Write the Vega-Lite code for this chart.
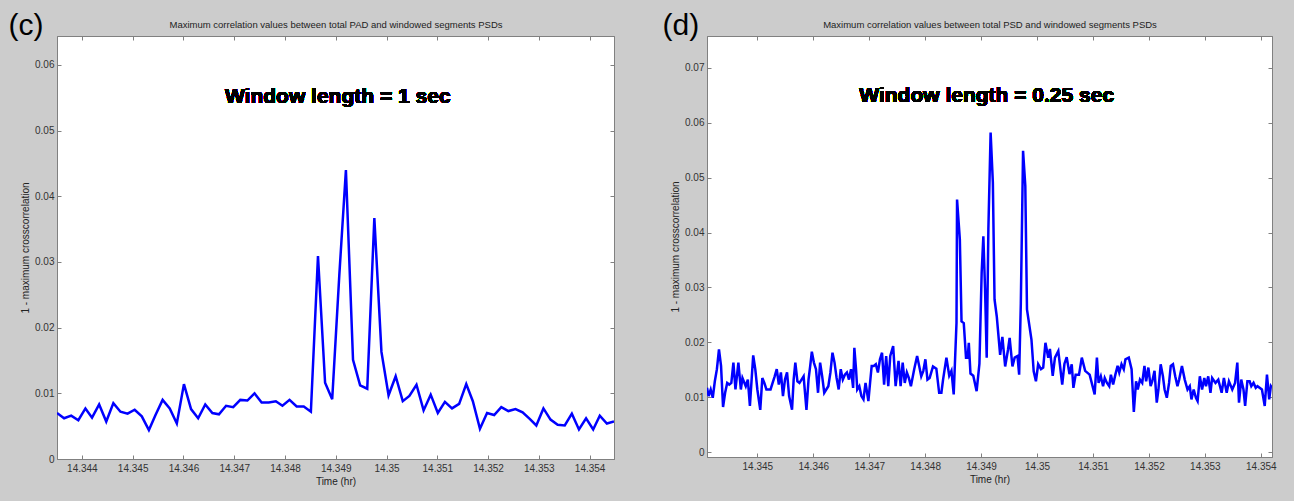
{
  "$schema": "https://vega.github.io/schema/vega-lite/v6.json",
  "background": "#cccccc",
  "padding": {"left": 8, "top": 10, "right": 40, "bottom": 40},
  "autosize": {"type": "pad"},
  "spacing": 93,
  "bounds": "flush",
  "datasets": {
    "c": [
      {"t": 14.34351, "v": 0.0070}, {"t": 14.34365, "v": 0.0062}, {"t": 14.34379, "v": 0.0066}, {"t": 14.34393, "v": 0.0059},
      {"t": 14.34407, "v": 0.0077}, {"t": 14.34420, "v": 0.0063}, {"t": 14.34434, "v": 0.0083}, {"t": 14.34448, "v": 0.0057},
      {"t": 14.34462, "v": 0.0085}, {"t": 14.34476, "v": 0.0072}, {"t": 14.34490, "v": 0.0069}, {"t": 14.34504, "v": 0.0075},
      {"t": 14.34518, "v": 0.0065}, {"t": 14.34532, "v": 0.0044}, {"t": 14.34545, "v": 0.0067}, {"t": 14.34559, "v": 0.0090},
      {"t": 14.34573, "v": 0.0077}, {"t": 14.34587, "v": 0.0054}, {"t": 14.34601, "v": 0.0114}, {"t": 14.34615, "v": 0.0076},
      {"t": 14.34629, "v": 0.0062}, {"t": 14.34643, "v": 0.0083}, {"t": 14.34657, "v": 0.0070}, {"t": 14.34670, "v": 0.0068},
      {"t": 14.34684, "v": 0.0081}, {"t": 14.34698, "v": 0.0079}, {"t": 14.34712, "v": 0.0090}, {"t": 14.34726, "v": 0.0089},
      {"t": 14.34740, "v": 0.0100}, {"t": 14.34754, "v": 0.0086}, {"t": 14.34768, "v": 0.0086}, {"t": 14.34782, "v": 0.0088},
      {"t": 14.34795, "v": 0.0081}, {"t": 14.34809, "v": 0.0090}, {"t": 14.34823, "v": 0.0080}, {"t": 14.34837, "v": 0.0080},
      {"t": 14.34851, "v": 0.0072}, {"t": 14.34865, "v": 0.0309}, {"t": 14.34879, "v": 0.0116}, {"t": 14.34893, "v": 0.0091},
      {"t": 14.34907, "v": 0.0280}, {"t": 14.34920, "v": 0.0440}, {"t": 14.34934, "v": 0.0151}, {"t": 14.34948, "v": 0.0112},
      {"t": 14.34962, "v": 0.0107}, {"t": 14.34976, "v": 0.0367}, {"t": 14.34990, "v": 0.0163}, {"t": 14.35004, "v": 0.0097},
      {"t": 14.35018, "v": 0.0126}, {"t": 14.35032, "v": 0.0088}, {"t": 14.35045, "v": 0.0096}, {"t": 14.35059, "v": 0.0113},
      {"t": 14.35073, "v": 0.0074}, {"t": 14.35087, "v": 0.0098}, {"t": 14.35101, "v": 0.0070}, {"t": 14.35115, "v": 0.0087},
      {"t": 14.35129, "v": 0.0077}, {"t": 14.35143, "v": 0.0084}, {"t": 14.35157, "v": 0.0114}, {"t": 14.35170, "v": 0.0088},
      {"t": 14.35184, "v": 0.0046}, {"t": 14.35198, "v": 0.0070}, {"t": 14.35212, "v": 0.0067}, {"t": 14.35226, "v": 0.0079},
      {"t": 14.35240, "v": 0.0073}, {"t": 14.35254, "v": 0.0076}, {"t": 14.35268, "v": 0.0071}, {"t": 14.35282, "v": 0.0061},
      {"t": 14.35295, "v": 0.0051}, {"t": 14.35309, "v": 0.0077}, {"t": 14.35323, "v": 0.0060}, {"t": 14.35337, "v": 0.0052},
      {"t": 14.35351, "v": 0.0051}, {"t": 14.35365, "v": 0.0069}, {"t": 14.35379, "v": 0.0045}, {"t": 14.35393, "v": 0.0062},
      {"t": 14.35407, "v": 0.0045}, {"t": 14.35420, "v": 0.0066}, {"t": 14.35434, "v": 0.0054}, {"t": 14.35448, "v": 0.0057}
    ],
    "d": [
      {"t": 14.344100, "v": 0.0117}, {"t": 14.344129, "v": 0.0102}, {"t": 14.344166, "v": 0.0114}, {"t": 14.344203, "v": 0.0099},
      {"t": 14.344240, "v": 0.0129}, {"t": 14.344277, "v": 0.0151}, {"t": 14.344314, "v": 0.0187}, {"t": 14.344351, "v": 0.0157},
      {"t": 14.344387, "v": 0.0082}, {"t": 14.344424, "v": 0.0108}, {"t": 14.344461, "v": 0.0126}, {"t": 14.344498, "v": 0.0123},
      {"t": 14.344535, "v": 0.0126}, {"t": 14.344572, "v": 0.0163}, {"t": 14.344609, "v": 0.0114}, {"t": 14.344661, "v": 0.0163},
      {"t": 14.344705, "v": 0.0114}, {"t": 14.344734, "v": 0.0135}, {"t": 14.344793, "v": 0.0120}, {"t": 14.344830, "v": 0.0132},
      {"t": 14.344867, "v": 0.0084}, {"t": 14.344926, "v": 0.0176}, {"t": 14.344963, "v": 0.0151}, {"t": 14.345000, "v": 0.0114},
      {"t": 14.345052, "v": 0.0077}, {"t": 14.345089, "v": 0.0135}, {"t": 14.345125, "v": 0.0126}, {"t": 14.345162, "v": 0.0114},
      {"t": 14.345236, "v": 0.0114}, {"t": 14.345273, "v": 0.0126}, {"t": 14.345310, "v": 0.0138}, {"t": 14.345347, "v": 0.0151},
      {"t": 14.345384, "v": 0.0123}, {"t": 14.345421, "v": 0.0145}, {"t": 14.345458, "v": 0.0102}, {"t": 14.345494, "v": 0.0132},
      {"t": 14.345531, "v": 0.0145}, {"t": 14.345568, "v": 0.0102}, {"t": 14.345620, "v": 0.0077}, {"t": 14.345649, "v": 0.0132},
      {"t": 14.345679, "v": 0.0163}, {"t": 14.345716, "v": 0.0129}, {"t": 14.345753, "v": 0.0126}, {"t": 14.345790, "v": 0.0132},
      {"t": 14.345827, "v": 0.0138}, {"t": 14.345878, "v": 0.0077}, {"t": 14.345915, "v": 0.0132}, {"t": 14.345945, "v": 0.0157},
      {"t": 14.345974, "v": 0.0183}, {"t": 14.346011, "v": 0.0163}, {"t": 14.346048, "v": 0.0151}, {"t": 14.346085, "v": 0.0108},
      {"t": 14.346122, "v": 0.0163}, {"t": 14.346159, "v": 0.0138}, {"t": 14.346196, "v": 0.0108}, {"t": 14.346232, "v": 0.0114},
      {"t": 14.346269, "v": 0.0120}, {"t": 14.346306, "v": 0.0145}, {"t": 14.346343, "v": 0.0181}, {"t": 14.346380, "v": 0.0163},
      {"t": 14.346417, "v": 0.0135}, {"t": 14.346454, "v": 0.0114}, {"t": 14.346491, "v": 0.0151}, {"t": 14.346528, "v": 0.0132},
      {"t": 14.346565, "v": 0.0141}, {"t": 14.346601, "v": 0.0145}, {"t": 14.346638, "v": 0.0132}, {"t": 14.346675, "v": 0.0151},
      {"t": 14.346712, "v": 0.0117}, {"t": 14.346734, "v": 0.0190}, {"t": 14.346764, "v": 0.0151}, {"t": 14.346786, "v": 0.0114},
      {"t": 14.346823, "v": 0.0120}, {"t": 14.346860, "v": 0.0102}, {"t": 14.346897, "v": 0.0096}, {"t": 14.346934, "v": 0.0126},
      {"t": 14.346985, "v": 0.0093}, {"t": 14.347015, "v": 0.0126}, {"t": 14.347044, "v": 0.0157}, {"t": 14.347081, "v": 0.0157},
      {"t": 14.347118, "v": 0.0160}, {"t": 14.347155, "v": 0.0145}, {"t": 14.347192, "v": 0.0169}, {"t": 14.347229, "v": 0.0181},
      {"t": 14.347266, "v": 0.0123}, {"t": 14.347303, "v": 0.0175}, {"t": 14.347340, "v": 0.0120}, {"t": 14.347376, "v": 0.0175},
      {"t": 14.347428, "v": 0.0193}, {"t": 14.347472, "v": 0.0120}, {"t": 14.347524, "v": 0.0166}, {"t": 14.347561, "v": 0.0120},
      {"t": 14.347598, "v": 0.0163}, {"t": 14.347635, "v": 0.0126}, {"t": 14.347672, "v": 0.0145}, {"t": 14.347708, "v": 0.0135},
      {"t": 14.347745, "v": 0.0120}, {"t": 14.347804, "v": 0.0151}, {"t": 14.347856, "v": 0.0175}, {"t": 14.347893, "v": 0.0157},
      {"t": 14.347930, "v": 0.0138}, {"t": 14.347967, "v": 0.0148}, {"t": 14.348004, "v": 0.0169}, {"t": 14.348041, "v": 0.0132},
      {"t": 14.34808, "v": 0.0135}, {"t": 14.34814, "v": 0.0156}, {"t": 14.34820, "v": 0.0152}, {"t": 14.34825, "v": 0.0108},
      {"t": 14.34829, "v": 0.0108}, {"t": 14.34832, "v": 0.0132}, {"t": 14.34838, "v": 0.0172}, {"t": 14.34843, "v": 0.0139},
      {"t": 14.34847, "v": 0.0148}, {"t": 14.34851, "v": 0.0105}, {"t": 14.34856, "v": 0.0235}, {"t": 14.34857, "v": 0.0460},
      {"t": 14.34862, "v": 0.0387}, {"t": 14.34865, "v": 0.0238}, {"t": 14.34869, "v": 0.0235}, {"t": 14.34873, "v": 0.0172},
      {"t": 14.34876, "v": 0.0172}, {"t": 14.34878, "v": 0.0199}, {"t": 14.34881, "v": 0.0143}, {"t": 14.34886, "v": 0.0139},
      {"t": 14.34892, "v": 0.0111}, {"t": 14.34897, "v": 0.0161}, {"t": 14.34901, "v": 0.0327}, {"t": 14.34904, "v": 0.0393},
      {"t": 14.34907, "v": 0.0299}, {"t": 14.34910, "v": 0.0172}, {"t": 14.34913, "v": 0.0406}, {"t": 14.34917, "v": 0.0582},
      {"t": 14.34921, "v": 0.0491}, {"t": 14.34924, "v": 0.0278}, {"t": 14.34928, "v": 0.0247}, {"t": 14.34934, "v": 0.0177},
      {"t": 14.34938, "v": 0.0210}, {"t": 14.34943, "v": 0.0156}, {"t": 14.34948, "v": 0.0186}, {"t": 14.34951, "v": 0.0208},
      {"t": 14.34956, "v": 0.0156}, {"t": 14.34960, "v": 0.0172}, {"t": 14.34965, "v": 0.0175}, {"t": 14.34968, "v": 0.0141},
      {"t": 14.34971, "v": 0.0271}, {"t": 14.34975, "v": 0.0549}, {"t": 14.34979, "v": 0.0485}, {"t": 14.34982, "v": 0.0260},
      {"t": 14.34990, "v": 0.0205}, {"t": 14.34994, "v": 0.0147}, {"t": 14.34998, "v": 0.0129}, {"t": 14.35002, "v": 0.0160},
      {"t": 14.35007, "v": 0.0151}, {"t": 14.35011, "v": 0.0154}, {"t": 14.35015, "v": 0.0199}, {"t": 14.35020, "v": 0.0172},
      {"t": 14.35023, "v": 0.0188}, {"t": 14.35028, "v": 0.0139}, {"t": 14.35032, "v": 0.0172}, {"t": 14.35038, "v": 0.0184},
      {"t": 14.35045, "v": 0.0123}, {"t": 14.35049, "v": 0.0161}, {"t": 14.35053, "v": 0.0173}, {"t": 14.35058, "v": 0.0142},
      {"t": 14.35062, "v": 0.0160}, {"t": 14.35065, "v": 0.0117}, {"t": 14.35069, "v": 0.0141}, {"t": 14.35075, "v": 0.0141},
      {"t": 14.35080, "v": 0.0172}, {"t": 14.35086, "v": 0.0148}, {"t": 14.35094, "v": 0.0141},
      {"t": 14.35103, "v": 0.0105}, {"t": 14.35107, "v": 0.0172}, {"t": 14.35110, "v": 0.0126}, {"t": 14.35114, "v": 0.0138},
      {"t": 14.35118, "v": 0.0120}, {"t": 14.35121, "v": 0.0135}, {"t": 14.35125, "v": 0.0126}, {"t": 14.35129, "v": 0.0120},
      {"t": 14.35132, "v": 0.0141}, {"t": 14.35136, "v": 0.0123}, {"t": 14.35140, "v": 0.0141}, {"t": 14.35144, "v": 0.0157},
      {"t": 14.35147, "v": 0.0145}, {"t": 14.35151, "v": 0.0160}, {"t": 14.35155, "v": 0.0151}, {"t": 14.35158, "v": 0.0169},
      {"t": 14.35164, "v": 0.0172}, {"t": 14.35169, "v": 0.0151}, {"t": 14.35173, "v": 0.0073}, {"t": 14.35177, "v": 0.0129},
      {"t": 14.35180, "v": 0.0114}, {"t": 14.35184, "v": 0.0132}, {"t": 14.35188, "v": 0.0126}, {"t": 14.35192, "v": 0.0157},
      {"t": 14.35195, "v": 0.0129}, {"t": 14.35199, "v": 0.0154}, {"t": 14.35203, "v": 0.0120}, {"t": 14.35206, "v": 0.0129},
      {"t": 14.35210, "v": 0.0148}, {"t": 14.35214, "v": 0.0090}, {"t": 14.35217, "v": 0.0114}, {"t": 14.35221, "v": 0.0160},
      {"t": 14.35225, "v": 0.0138}, {"t": 14.35228, "v": 0.0114}, {"t": 14.35232, "v": 0.0099}, {"t": 14.35236, "v": 0.0126},
      {"t": 14.35239, "v": 0.0157}, {"t": 14.35243, "v": 0.0160}, {"t": 14.35247, "v": 0.0138}, {"t": 14.35251, "v": 0.0120},
      {"t": 14.35254, "v": 0.0132}, {"t": 14.35259, "v": 0.0157}, {"t": 14.35264, "v": 0.0132}, {"t": 14.35269, "v": 0.0114},
      {"t": 14.35273, "v": 0.0120}, {"t": 14.35276, "v": 0.0096}, {"t": 14.35280, "v": 0.0114}, {"t": 14.35284, "v": 0.0099},
      {"t": 14.35287, "v": 0.0093}, {"t": 14.35291, "v": 0.0138}, {"t": 14.35295, "v": 0.0114}, {"t": 14.35299, "v": 0.0135},
      {"t": 14.35302, "v": 0.0120}, {"t": 14.35306, "v": 0.0138}, {"t": 14.35310, "v": 0.0108}, {"t": 14.35313, "v": 0.0135},
      {"t": 14.35319, "v": 0.0126}, {"t": 14.35324, "v": 0.0132}, {"t": 14.35330, "v": 0.0108}, {"t": 14.35334, "v": 0.0135},
      {"t": 14.35339, "v": 0.0108}, {"t": 14.35343, "v": 0.0129}, {"t": 14.35349, "v": 0.0114}, {"t": 14.35354, "v": 0.0126},
      {"t": 14.35358, "v": 0.0163}, {"t": 14.35361, "v": 0.0090}, {"t": 14.35365, "v": 0.0132}, {"t": 14.35369, "v": 0.0114},
      {"t": 14.35372, "v": 0.0084}, {"t": 14.35376, "v": 0.0129}, {"t": 14.35380, "v": 0.0129}, {"t": 14.35383, "v": 0.0120},
      {"t": 14.35387, "v": 0.0126}, {"t": 14.35391, "v": 0.0117}, {"t": 14.35394, "v": 0.0120}, {"t": 14.35402, "v": 0.0114},
      {"t": 14.35407, "v": 0.0084}, {"t": 14.35411, "v": 0.0141}, {"t": 14.35415, "v": 0.0096}, {"t": 14.35418, "v": 0.0120},
      {"t": 14.35420, "v": 0.0117}
    ]
  },
  "hconcat": [
    {
      "width": 557,
      "height": 423,
      "title": {"text": "(c)", "anchor": "start", "frame": "bounds", "fontSize": 30, "font": "Liberation Sans", "fontWeight": "normal", "color": "#000000", "dx": -12, "dy": 21, "offset": 0},
      "data": {"name": "c"},
      "resolve": {"axis": {"x": "independent", "y": "independent"}},
      "layer": [
        {
          "mark": {"type": "line", "color": "#0000ff", "strokeWidth": 2.5, "clip": true},
          "encoding": {
            "x": {"field": "t", "type": "quantitative", "scale": {"domain": [14.34351, 14.35448], "nice": false, "zero": false},
              "axis": {"orient": "bottom", "values": [14.344, 14.345, 14.346, 14.347, 14.348, 14.349, 14.35, 14.351, 14.352, 14.353, 14.354], "format": ".3~f", "tickSize": -4, "labelPadding": 8, "title": "Time (hr)", "titlePadding": 3}},
            "y": {"field": "v", "type": "quantitative", "scale": {"domain": [0, 0.0644], "nice": false, "zero": false},
              "axis": {"orient": "left", "values": [0, 0.01, 0.02, 0.03, 0.04, 0.05, 0.06], "format": ".2~f", "tickSize": -4, "labelPadding": 7, "title": "1 - maximum crosscorrelation", "titlePadding": 4}}
          }
        },
        {
          "mark": {"type": "text", "font": "Liberation Sans", "fontSize": 21, "fontWeight": "bold", "color": "#000000", "align": "center", "baseline": "alphabetic"},
          "encoding": {
            "text": {"value": "Window length = 1 sec"},
            "x": {"datum": 14.34904, "type": "quantitative", "scale": {"domain": [14.34351, 14.35448], "nice": false, "zero": false},
              "axis": {"orient": "top", "values": [14.344, 14.345, 14.346, 14.347, 14.348, 14.349, 14.35, 14.351, 14.352, 14.353, 14.354], "labels": false, "tickSize": -4, "title": "Maximum correlation values between total PAD and windowed segments PSDs", "titlePadding": 6, "titleFontSize": 9.5}},
            "y": {"datum": 0.0542, "type": "quantitative", "scale": {"domain": [0, 0.0644], "nice": false, "zero": false},
              "axis": {"orient": "right", "values": [0, 0.01, 0.02, 0.03, 0.04, 0.05, 0.06], "labels": false, "tickSize": -4, "title": null}}
          }
        }
      ]
    },
    {
      "width": 565,
      "height": 421,
      "title": {"text": "(d)", "anchor": "start", "frame": "bounds", "fontSize": 30, "font": "Liberation Sans", "fontWeight": "normal", "color": "#000000", "dx": -8, "dy": 21, "offset": 0},
      "data": {"name": "d"},
      "resolve": {"axis": {"x": "independent", "y": "independent"}},
      "layer": [
        {
          "mark": {"type": "line", "color": "#0000ff", "strokeWidth": 2.5, "clip": true},
          "encoding": {
            "x": {"field": "t", "type": "quantitative", "scale": {"domain": [14.3441, 14.3542], "nice": false, "zero": false},
              "axis": {"orient": "bottom", "values": [14.345, 14.346, 14.347, 14.348, 14.349, 14.35, 14.351, 14.352, 14.353, 14.354], "format": ".3~f", "tickSize": -4, "labelPadding": 8, "title": "Time (hr)", "titlePadding": 3}},
            "y": {"field": "v", "type": "quantitative", "scale": {"domain": [-0.0009, 0.0758], "nice": false, "zero": false},
              "axis": {"orient": "left", "values": [0, 0.01, 0.02, 0.03, 0.04, 0.05, 0.06, 0.07], "format": ".2~f", "tickSize": -4, "labelPadding": 7, "title": "1 - maximum crosscorrelation", "titlePadding": 4}}
          }
        },
        {
          "mark": {"type": "text", "font": "Liberation Sans", "fontSize": 21, "fontWeight": "bold", "color": "#000000", "align": "center", "baseline": "alphabetic"},
          "encoding": {
            "text": {"value": "Window length = 0.25 sec"},
            "x": {"datum": 14.3491, "type": "quantitative", "scale": {"domain": [14.3441, 14.3542], "nice": false, "zero": false},
              "axis": {"orient": "top", "values": [14.345, 14.346, 14.347, 14.348, 14.349, 14.35, 14.351, 14.352, 14.353, 14.354], "labels": false, "tickSize": -4, "title": "Maximum correlation values between total PSD and windowed segments PSDs", "titlePadding": 6, "titleFontSize": 9.5}},
            "y": {"datum": 0.0637, "type": "quantitative", "scale": {"domain": [-0.0009, 0.0758], "nice": false, "zero": false},
              "axis": {"orient": "right", "values": [0, 0.01, 0.02, 0.03, 0.04, 0.05, 0.06, 0.07], "labels": false, "tickSize": -4, "title": null}}
          }
        }
      ]
    }
  ],
  "config": {
    "view": {"fill": "#ffffff", "stroke": "#808080", "strokeWidth": 1},
    "axis": {
      "grid": false,
      "labelFont": "Liberation Sans",
      "titleFont": "Liberation Sans",
      "labelFontSize": 10,
      "titleFontSize": 10,
      "titleFontWeight": "normal",
      "labelColor": "#333333",
      "titleColor": "#222222",
      "domainColor": "#808080",
      "tickColor": "#808080"
    }
  }
}
